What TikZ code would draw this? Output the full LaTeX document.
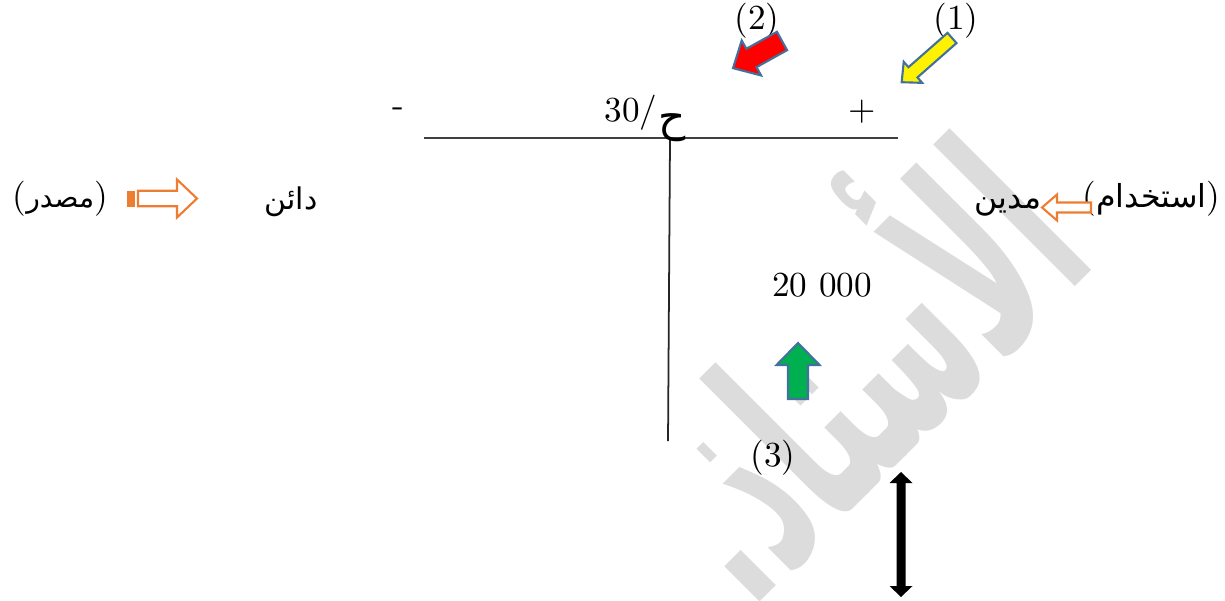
\documentclass[tikz,border=0pt]{standalone}
\usepackage{fontspec}
\TeXXeTstate=1
\newfontfamily\arabicfont[Script=Arabic]{DejaVu Sans}
\definecolor{arrowedge}{RGB}{65,113,156}
\definecolor{orangeedge}{RGB}{237,125,49}
\definecolor{markgray}{RGB}{220,220,220}

% block arrow: tail centre, direction, length, shaft half width, head half width, head length, style
\newcommand\blockarr[7]{%
  \draw[#7, shift={#1}, rotate=#2]
    (0,-#4) -- ({#3-#6},-#4) -- ({#3-#6},-#5) -- (#3,0) -- ({#3-#6},#5)
    -- ({#3-#6},#4) -- (0,#4) -- cycle;}

\begin{document}
\begin{tikzpicture}[x=0.01cm,y=-0.01cm,
  txt/.style={inner sep=0pt, font=\fontsize{10}{12}\selectfont},
  tline/.style={draw=black!75, line width=0.6pt},
  vline/.style={draw=black!85, line width=0.5pt},
  pointer/.style={draw=arrowedge, line width=0.6pt, line join=miter},
  hollow/.style={draw=orangeedge, fill=white, line width=0.6pt},
  watermark/.style={inner sep=0pt, text=markgray,
    font=\arabicfont\bfseries\fontsize{75}{80}\selectfont}]
\useasboundingbox (0,0) rectangle (1225,600);

% background word, drawn first
\node[watermark, rotate=45, anchor=base east] (wm) at (1100,262)
  {\scalebox{0.5}[1]{.\beginR الأستاذ\endR}};

% T account
\coordinate (tl) at (424,138);
\coordinate (tr) at (898,138);
\coordinate (vt) at (670,139);
\coordinate (vb) at (668,441);
\draw[tline] (tl) -- (tr);
\draw[vline] (vt) -- (vb);

\node[txt] (minus) at (398,112) {-};
\node[txt] (plus) at (862,112) {+};
\node[txt, anchor=base east] (acc) at (658,121) {30/};
\node[inner sep=0pt, font=\arabicfont\fontsize{12}{14}\selectfont, anchor=base west]
  (accar) at ([yshift=-0.1cm]acc.base east) {\beginR ح\endR};

% numbered pointers
\node[txt] (n1) at (956,21) {(1)};
\node[txt] (n2) at (757,21) {(2)};
\node[txt] (n3) at (773,458) {(3)};
\blockarr{(952,38)}{221.3}{67}{6.8}{14}{15}{pointer, fill=yellow}
\blockarr{(782,41)}{209}{56}{10.5}{20}{21}{pointer, fill=red}
\blockarr{(798,399)}{90}{56}{10}{21.5}{22}{pointer, fill={rgb,255:red,0;green,176;blue,80}}

\node[txt] (amt) at (822,285) {20 000};

% left side: source / credit
\node[txt, anchor=west] (srcl) at (12,199)
  {({\arabicfont\fontsize{8}{10}\selectfont\beginR مصدر\endR})};
\fill[orangeedge] (127,191) rectangle (134.5,206.5);
\blockarr{(138,198.5)}{0}{59}{7.8}{19}{20}{hollow}
\node[inner sep=0pt, font=\arabicfont\fontsize{8.5}{10}\selectfont] (credit) at (291,202)
  {\beginR دائن\endR};

% right side: use / debit
\node[txt, anchor=east] (useR) at (1221,199)
  {({\arabicfont\fontsize{9}{11}\selectfont\beginR استخدام\endR})};
\blockarr{(1091,207.5)}{180}{49}{5}{13}{15}{hollow}
\node[inner sep=0pt, font=\arabicfont\fontsize{9}{11}\selectfont] (debit) at (1008,206)
  {\beginR مدين\endR};

% vertical double arrow
\coordinate (da) at (901,472);
\coordinate (db) at (901,597);
\fill[black] (da) -- ++(11.5,11) -- ++(-7,0) |- ++(7,103) -- (db) -- ++(-11.5,-11)
  -- ++(7,0) |- ++(-7,-103) -- cycle;
\end{tikzpicture}
\end{document}
